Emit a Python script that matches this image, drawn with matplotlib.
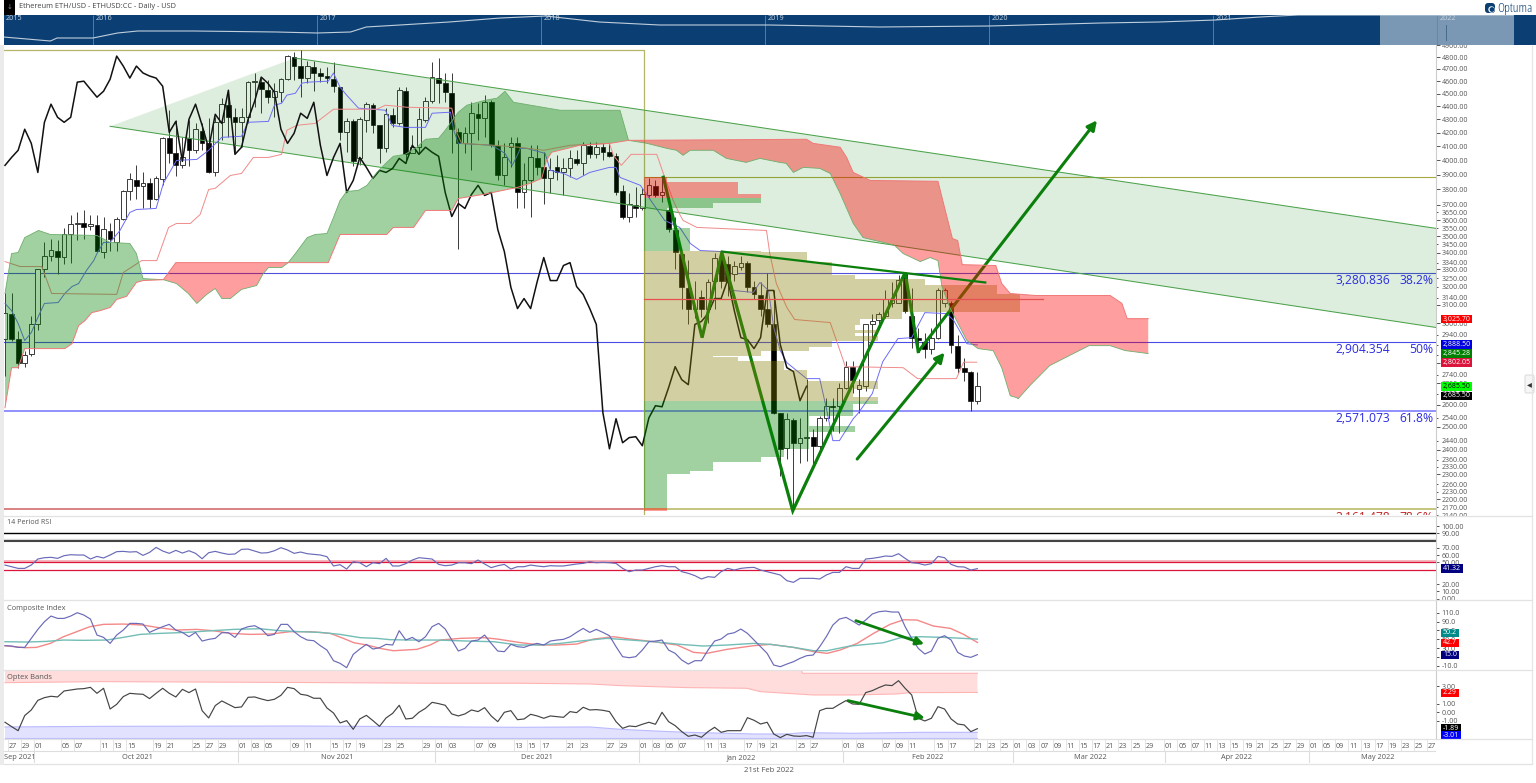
import numpy as np
import matplotlib
matplotlib.use("Agg")
import matplotlib.pyplot as plt
from matplotlib.patches import Rectangle, Circle, FancyBboxPatch

plt.rcParams['font.family'] = ['Open Sans', 'DejaVu Sans']

W, H = 1536, 783

# ---------- candles (ETH/USD, daily, bar 0 = 26 Sep 2021) ----------
opens = [2921,3053,2921,2800,2845,2995,3305,3382,3412,3376,3510,3573,3579,3560,3567,3406,3529,3461,3604,3787,
 3861,3821,3841,3740,3868,4159,4050,3965,4159,4072,4211,4122,3916,4278,4409,4316,4278,4316,4592,4592,
 4527,4472,4511,4616,4800,4724,4625,4716,4667,4642,4616,4551,4203,4285,4014,4293,4409,4255,4086,4331,
 4270,4519,4050,4094,4293,4440,4625,4584,4503,4203,4122,4196,4339,4308,4432,4101,3895,4094,4122,3780,
 3861,4014,3951,3875,3951,3916,3944,4007,3979,4101,4043,4094,4058,4029,3787,3623,3700,3675,3760,3821,
 3760,3662,3535,3394,3191,3080,3141,3080,3236,3364,3334,3276,3317,3340,3202,3152,3080,2995,2563,2410,
 2531,2431,2453,2457,2418,2540,2595,2595,2679,2780,2674,2689,2995,3016,3042,3108,3113,3276,3042,2926,
 2906,2870,2926,3113,3113,2885,2775,2756,2618]
highs = [3163,3163,2963,2860,3042,3305,3461,3485,3473,3548,3630,3649,3668,3630,3630,3617,3579,3617,3794,3909,
 3965,3916,3875,3889,4166,4370,4293,4166,4293,4270,4270,4308,4316,4464,4527,4386,4386,4600,4667,4625,
 4608,4584,4625,4817,4842,4860,4766,4766,4708,4716,4758,4551,4308,4301,4316,4432,4424,4255,4386,4386,
 4551,4551,4181,4386,4472,4758,4792,4667,4667,4233,4240,4432,4424,4488,4448,4144,4122,4166,4166,3979,
 4108,4108,4058,4014,4036,4014,4072,4072,4130,4130,4130,4122,4122,4050,3828,3774,3814,3808,3875,3861,
 3882,3753,3617,3400,3358,3236,3180,3247,3400,3412,3382,3352,3382,3352,3236,3225,3282,3180,2563,2563,
 2540,2540,2722,2492,2549,2632,2632,2703,2810,2810,2722,2995,3053,3064,3180,3230,3270,3282,3191,2974,
 2948,2974,3191,3191,3124,2942,2825,2761,2756]
lows = [2736,2911,2775,2780,2835,2968,3254,3352,3276,3334,3340,3473,3485,3535,3412,3370,3412,3412,3598,3727,
 3740,3675,3675,3733,3828,3979,3889,3944,3958,4050,4072,3909,3889,4144,4166,4058,4094,4270,4393,4347,
 4424,4316,4432,4608,4608,4472,4584,4519,4592,4584,4511,4144,4058,3958,3965,4203,4196,3979,4058,4240,
 4255,3979,4050,4050,4278,4424,4424,4432,4050,3420,4050,3930,4144,4166,4094,3861,3828,3951,3675,3681,
 3617,3895,3707,3774,3861,3760,3882,3965,3895,4014,4014,4000,4021,3760,3604,3585,3617,3662,3747,3747,
 3714,3523,3300,3080,2995,3027,3032,3000,3080,3191,3147,3236,3294,3169,3135,3042,2979,2559,2294,2363,
 2156,2347,2355,2335,2397,2527,2483,2474,2674,2655,2563,2665,2926,2979,3027,3086,3108,3058,2875,2875,
 2825,2845,2921,3086,2850,2751,2712,2572,2604]
closes = [3058,2921,2800,2840,2995,3305,3382,3418,3376,3510,3573,3579,3554,3573,3412,3541,3485,3604,3787,3868,
 3821,3841,3740,3875,4159,4050,3965,4021,4072,4226,4122,3916,4278,4417,4316,4278,4316,4592,4600,4535,
 4472,4519,4616,4808,4724,4625,4724,4667,4642,4625,4559,4203,4285,3993,4301,4417,4255,4086,4339,4270,
 4527,4043,4094,4301,4440,4633,4584,4511,4226,4122,4196,4347,4308,4432,4108,3895,4021,4122,3780,3861,
 4021,3951,3875,3930,3916,3944,4014,3979,4108,4043,4094,4058,4029,3780,3623,3707,3675,3767,3828,3760,
 3780,3541,3406,3197,3080,3135,3080,3230,3370,3236,3236,3323,3340,3202,3158,3080,2995,2563,2405,2536,
 2431,2453,2457,2418,2540,2595,2590,2679,2780,2717,2693,2995,3011,3053,3135,3135,3241,3069,2926,2916,
 2870,2926,3180,3180,2890,2775,2756,2618,2685.5]

# ---------- Ichimoku ----------
tenkan_x = [0,1,2,3,4,5,6,8.1,9.1,10.2,11.2,12.4,13.5,14,15,16,17.5,19,20,23,24.1,26.1,29.2,31,33,36,37,40.1,41,42.1,42.9,
 44.2,45.2,46.2,49.2,50,51,52,53.8,57.9,58.9,60.9,64,65,67.8,68.3,69,74.1,76.1,77.2,78.2,78.4,79.4,82.2,83,85,87,89,92,93,
 93.6,96.7,100.4,102.7,104.3,105.8,109,110.8,113.9,114.9,116.2,117,118,119,122,124,125,126,127,129.1,129.8,132,133.6,135.9,
 138,140,143.3,144.4,146.4,148]
tenkan_y = [3108,3069,3000,2911,2952,3032,3108,3113,3163,3202,3219,3294,3352,3394,3461,3461,3535,3649,3668,3675,3841,4000,4007,4072,4166,4174,4278,4285,4409,4424,4488,
 4503,4584,4592,4600,4667,4551,4488,4386,4370,4255,4240,4240,4347,4355,4218,4122,4108,4050,3965,4058,4086,4086,4050,3930,3909,3868,3916,3951,3951,
 3882,3828,3598,3554,3455,3412,3406,3180,3169,3225,3180,2979,2860,2800,2722,2722,2585,2440,2440,2536,2559,2651,2805,2921,
 2926,3058,3053,3016,2895,2888.5]
kijun_x = [0,2.3,5.6,7.1,17,18,20.8,23.1,24.9,26.1,28.2,29.7,31,32,34.3,36,37.8,40.1,42.1,42.9,44.4,47.2,50,56.6,57.9,61.2,68,68.8,69.5,
 74.4,78.2,82,86,92,92.6,93.8,95.3,99.2,100.2,101.7,102.7,103.2,105.3,115.9,116.4,117.4,119,120.2,125.6,126.4,127.6,127.9,136.7,138.9,144.8,145.9,147.9]
kijun_y = [3346,3317,3317,3163,3158,3282,3352,3352,3554,3579,3579,3636,3800,3808,3895,3909,4021,4021,4043,4218,4255,4270,4378,4378,4409,4393,4386,4196,4122,
 4108,4094,4072,4108,4122,4036,3965,4043,4043,3909,3727,3636,3598,3554,3535,3394,3219,3086,3021,3005,2926,2810,2780,2775,2722,2722,2802,2802]
span_a_x = [0,1,2,3,5.1,6.9,14,16,19,20,21,24.1,26.1,27.9,29.2,30.7,32,33,34.3,36,38.3,39.3,40.1,42.1,43.1,44.2,46,47.2,49,50,51,52,53.8,55.1,
 56.6,58.1,59.1,60.9,62.7,64,66,67,69,70.3,73.1,74.9,76.1,77.4,80,84.5,93.6,94.9,97.7,100.7,102.2,103.2,104.3,107.8,109.8,112.8,114.9,117.9,118.9,120,121.5,124,
 125.6,127.1,129.1,130.6,133.7,135.4,136.7,139.3,140.8,142,142.6,143.8,146.4,148.1,150.4,151.7,153,154,154.2,156,159,162,165,168.2,170.5,174]
span_a_y = [3163,3394,3400,3491,3535,3510,3504,3461,3455,3394,3247,3241,3219,3163,3108,3158,3191,3135,3135,3186,3208,3276,3311,3311,3340,3394,3491,3510,3516,3617,3727,3787,3794,3828,
 3916,3986,4029,4043,4094,4152,4159,4218,4355,4409,4448,4464,4519,4432,4409,4370,4370,4144,4122,4086,4072,4036,4072,4072,4014,3986,4014,3986,3979,3916,3951,3944,
 3909,3774,3579,3491,3461,3443,3394,3346,3370,3352,3202,3086,2911,2870,2860,2775,2641,2632,2627,2689,2785,2835,2885,2885,2860,2845]
span_b_x = [0,1,2,3,9.1,10.2,11.2,12.2,13.2,14.5,16,17,18.5,20,21,24.1,26,43.1,49.2,51,58.1,59.1,62.2,64,68,69,72.8,78,79.9,81.7,82.4,83.2,87.5,92.1,94.9,
 122,123,127.1,128.1,129.1,131.7,142,143,144.2,145,145.7,150.8,151.7,153,156.8,168.2,170,170.8,174]
span_b_y = [2586,2775,2775,2870,2870,2895,2989,3016,3058,3069,3086,3130,3147,3225,3236,3241,3340,3340,3340,3510,3510,3554,3554,3662,3662,3740,3767,3814,3841,3875,4000,4058,4108,4122,4144,
 4152,4122,4094,4021,3916,3861,3855,3681,3485,3473,3328,3323,3219,3163,3152,3152,3108,3025.7,3025.7]

# ---------- volume profile ----------
vp_edges = [3883,3848,3770,3742,3710,3677,3549,3408,3402,3342,3270,3246,3208,3161,3060,3025,2993,2968,2950,2933,2907,2876,2860,2832,2827,2810,2764,2712,2673,2634,2618,
 2605,2550,2505,2476,2405,2370,2350,2314,2300,2168,2156]
vp_lengths = [3.5,14.2,17.7,17.7,10.5,3.5,7,17.7,24.7,28.6,32.1,42.8,53.7,57.2,39.3,32.9,32.1,35.6,32.1,35.6,28.6,25,17.7,10.5,14.2,21.2,24.7,35.6,31.8,35.6,
 35.6,31.8,25,32.1,25,21.2,17.7,10.5,7,3.5,3.5]
vp_kinds = list("RRRGGGG") + list("T"*23) + list("GGGGGGGGGG") + ["R"]
vp_start = 97.3
vp_poc = 3135

# ---------- fibonacci and drawings ----------
fib_prices = [3280.836, 2904.354, 2571.073, 2161.478]
fib_values = ["3,280.836", "2,904.354", "2,571.073", "2,161.478"]
fib_pcts = ["38.2%", "50%", "61.8%", "78.6%"]
olive_level = 3883
olive_top = 4864
channel_x = [16, 44.1, 217.8, 217.8]
channel_y = [4248, 4792, 3548, 2979]
zigzag_x = [100.2, 106.1, 109.1, 119.9, 137, 139]
zigzag_y = [3883, 2926, 3400, 2156, 3282, 2855]
big_arrow_end = (166.2, 4293)
trend_x = [109.1, 149.2]
trend_y = [3406, 3225]
arrow2 = ((129.7, 2362), (143, 2850))
comp_arrow = ((129.5, 92), (139.9, 39))
optex_arrow = ((128.3, 1.35), (140, -0.65))

price_ticks_major = [4900,4800,4700,4600,4500,4400,4300,4200,4100,4000,3900,3800,3700,3600,3500,3400,3300,3100,3000,2800,2700,2600,2500,2400,2300,2200]
price_ticks_minor = [3650,3550,3450,3340,3250,3200,3140,2940,2890,2840,2740,2650,2540,2440,2360,2330,2260,2230,2170,2140]

# ---------- RSI ----------
rsi = [46.3,44,41.7,41.7,46.3,54.6,56.4,56.9,55.5,59.2,
 60.5,60.1,60.1,54.6,58.2,56,60.1,64.7,65.1,64.2,
 64.7,59.6,63.7,70.6,65.6,62.4,66.5,62.8,66,62.4,
 55,63.3,65.1,62.8,61,61.5,67.9,68.3,65.6,62.8,
 63.3,66,70.2,67,62.4,64.2,61.9,61,60.1,57.8,
 45,46.8,40.8,50.9,49.5,44,49.5,48.2,55.5,45,
 45,48.2,53.2,56.4,55.5,54.6,47.2,45.4,46.3,49.5,
 49.5,48.2,53.2,47.7,42.7,45.4,47.2,40.8,44,
 44,46.3,45,44,45.4,45,45,46.3,47.7,48.6,
 50.9,49.5,50,49.5,48.6,41.7,37.2,39.4,39.4,41.7,
 44,45.4,44,44,37.2,34.9,31.7,27.1,30.3,29.4,
 37.2,41.7,39.4,41.7,42.7,43.1,39.4,37.2,34.9,32.6,
 24.8,22.5,28,28,28,27.1,32.6,36.2,36.2,44,
 41.7,41.7,54.6,55.5,56.9,58.7,58.2,61.9,55.5,49.5,
 48.6,46.3,48.2,58.2,56.4,47.2,44,43.6,39.4,41.32]
rsi_ticks = [100,90,70,60,50,20,10,0]

# ---------- Composite Index ----------
composite = [35.2,34.5,31.5,31.5,51.9,72.2,89.6,102.4,97.1,97.1,
 102.4,110,104.7,95.6,59.4,54.1,40.5,59.4,70.7,85.8,
 85.8,84.3,65.4,72.2,78.3,83.6,70.7,65.4,55.6,65.4,
 45.8,49.6,51.9,64.7,64.7,54.1,73,78.3,80.5,73,
 57.9,60.9,83.6,83.6,67,55.6,48.1,46.6,35.2,25.4,
 1.3,-4.7,-14.5,15.6,27.7,38.3,27.7,30.7,38.3,36.8,
 69.2,48.1,54.1,44.3,55.6,78.3,85.8,73,48.1,23.2,
 29.2,45.8,48.1,59.4,40.5,23.2,21.7,38.3,33,
 31.5,36.8,40.5,36.8,45.8,48.1,49.6,55.6,65.4,74.5,
 65.4,72.2,65.4,57.9,33,10.4,8.1,10.4,25.4,44.3,
 45.8,48.1,25.4,17.9,2.8,-6.3,1.3,1.3,25.4,45.8,
 50.4,61.7,64.7,73,63.2,48.1,33,17.9,-8.5,-12.3,
 -6.3,-1,6.6,12.6,14.1,33,55.6,82,95.6,99.4,
 91.1,82,93.4,107,112.2,113.8,111.5,111.5,78.3,51.9,
 29.2,16.4,23.2,51.9,57.9,48.1,20.2,11.9,8.9,15]
comp_red_x = [0,3,4.8,6.9,8.9,10.9,12.9,15,18,21,23.1,26.1,29.2,31.7,34.3,37.3,40.4,43.4,46.5,49.5,51.5,53.1,55.1,57.1,59.1,62.7,64.7,66.2,69.3,72.9,74.9,78.2,
 81.4,84,87,89.6,92.6,95.2,98.7,102.3,104.8,106.8,109.9,113.9,116.5,120,123.1,125.1,127.1,129.7,132.2,134.7,136.8,138.8,141.3,143.9,145.9,148]
comp_red_y = [35.2,30.7,31.5,40.5,55.6,66.9,78.3,83.6,84.3,82,76.8,70.7,72.2,69.2,63.2,60.9,61.7,67,67,63.2,51.9,42,36.8,29.2,23.9,27,36.8,48.1,51.9,53.4,50.4,42.8,
 36.8,36.8,39,50.4,55.6,50.4,44.3,36.8,20.2,17.9,27,35.2,38.3,31.5,21.7,17.9,25.4,40.5,63.2,83.6,94,93.4,79.8,74.5,60.9,42.7]
comp_teal_x = [0,3.3,6.3,8.9,11.9,15.5,18,20.6,23.6,27.7,30.7,34.8,38.8,41.9,44.9,48,51,54.1,56.6,58.6,61.7,65.7,70.3,74.4,78.2,
 81.4,84.5,87.5,91.6,95.2,98.7,102.8,106.3,109.9,113.9,116.5,120,123.1,125.1,128.6,133.7,136.3,139.3,142.9,148]
comp_teal_y = [44.3,43.6,45,48.1,47.4,48.1,54.1,60.9,63.2,65.4,68.5,72.2,73.7,69.2,67,65.4,60.9,53.4,51.9,48.9,48.1,48.1,45.8,44.3,36.8,
 36.8,40.5,45.8,51.9,48.1,44.3,38.3,34.5,36.8,40.5,38.3,31.5,23.9,23.9,34.5,42,53.4,55.6,54.1,50.2]
comp_ticks = [110,90,70,50,30,10,-10]

# ---------- Optex Bands ----------
optex = [-1.15,-1.65,-2.12,-.38,.27,1.38,1.69,1.85,1.77,2.46,
 2.58,2.69,2.73,2.88,2.19,2.77,.38,.92,1.81,2.19,
 2.12,2.08,1.58,2.19,2.77,2.19,1.77,2.65,2.27,2.69,
 .19,-.65,.77,1.31,.92,.54,.62,1.73,1.77,1.54,
 1.35,1.5,1.96,2.88,2.73,2.08,1.96,1.62,1.62,.5,
 -.08,-1.23,-.96,-1.96,-.77,-.35,-.96,-1.62,-.65,-.12,
 .81,-.77,-.69,0,.46,1.15,1,.81,-.19,-.42,
 -.19,.27,.08,.54,-.42,-1.08,0,.19,-.85,
 -.77,-.23,-.42,-.69,-.42,-.5,-.58,.08,-.04,.58,
 .27,.31,.23,.08,-1.08,-1.85,-1.58,-1.65,-1.38,-1.15,
 -1.38,0,-1.08,-1.54,-2.23,-2.77,-2.62,-2.88,-2.23,-1.73,
 -2.31,-2.12,-2.12,-2.12,-.62,-.92,-1.35,-1.15,-2.5,-2.92,
 -2.54,-2.73,-2.77,-2.69,-2.88,.19,.46,.46,.92,1.35,
 .96,.92,2.27,2.5,2.85,3.15,3.08,3.65,2.77,2,
 -.69,-1,-.69,.65,.38,-.77,-1.35,-1.46,-2.23,-1.89]
upper_top_x = [0,120.8,121.4,148]
upper_top_y = [5.5,5.5,4.5,4.5]
upper_low_x = [0,14.5,50,65,78.4,89,93.6,98.7,103.8,112.9,115,119,123,129.2,135.8,137.8,148]
upper_low_y = [3.42,3.54,3.42,3.35,3.35,3.27,3.08,2.96,2.85,2.77,2.38,2.19,2,2,2.12,2.27,2.29]
lower_top_x = [0,14.5,45,60,78.4,89,93.6,98.7,103.8,114,119,121.5,129.2,139.3,148]
lower_top_y = [-1.69,-1.62,-1.58,-1.65,-1.73,-1.69,-1.96,-2.15,-2.31,-2.5,-2.5,-2.35,-2.42,-2.31,-2.31]
lower_bottom = -3.01
optex_ticks = [3,1,0,-1]

# ---------- date axis ----------
date_pos = [1,3,5,9,11,15,17,19,23,25,29,31,33,36,38,40,44,46,50,52,54,58,60,64,66,68,72,74,78,80,82,86,88,92,94,97,99,101,103,107,109,113,115,117,121,123,128,130,134,136,138,142,144,148,150,152,
 154,156,158,160,162,164,166,168,170,172,174,177,179,181,183,185,187,189,191,193,195,197,199,201,203,205,207,209,211,213,215,217]
date_lab = "27 29 01 05 07 11 13 15 19 21 25 27 29 01 03 05 09 11 15 17 19 23 25 29 01 03 07 09 13 15 17 21 23 27 29 01 03 05 07 11 13 17 19 21 25 27 01 03 07 09 11 15 17 21 23 25 01 03 07 09 11 15 17 21 23 25 29 01 05 07 11 13 15 19 21 25 27 29 01 05 09 11 13 17 19 23 25 27".split()
month_names = ["Sep 2021","Oct 2021","Nov 2021","Dec 2021","Jan 2022","Feb 2022","Mar 2022","Apr 2022","May 2022"]
month_pos = [2.2,20.1,50.5,81,112,140.5,165.2,187.5,209]
month_edges = [4.4,35.5,65.5,96.5,127.5,153.4,176.6,198.4]

# ---------- navigator ----------
nav_years = [2015.60,2015.81,2015.84,2016,2016.11,2016.2,2016.45,2016.82,2017,2017.15,2017.22,2017.37,2017.59,2017.82,2018.02,2018.26,2018.53,2019.02,2019.51,2020,2020.5,2020.76,2021.01,2021.21,2021.38,2021.74,2022.06,2022.34]
nav_values = [8,4,7,7,12,14,14,13,12,13,18,20,23,27,29,23,20,20,18,19,22,23,25,28,30,30,30,30]
nav_labels = [2016,2017,2018,2019,2020,2021,2022]

# ---------- badges: text, colour, text colour, pixel row ----------
badges = [("3,025.70","#FF0000","white",319,1472),("2,888.50","#0000E0","white",344.5,1472),("2,845.28","#008000","white",353.5,1472),
          ("2,802.05","#DC143C","white",362.7,1472),("2,685.50","#00FF00","black",386.5,1472),("2,685.50","#000000","white",396,1472),
          ("41.32","#000080","white",568.5,1463),("50.2","#008B8B","white",633,1459),("42.7","#FF0000","white",643,1459),
          ("15.0","#000080","white",655,1459),("2.29","#FF0000","white",693,1459),("-1.89","#000000","white",728.5,1461),("-3.01","#0000FF","white",735.5,1461)]

fig = plt.figure(figsize=(W/100, H/100), dpi=100, facecolor='white')

def axes_px(x0, y0, x1, y1, **kw):
    return fig.add_axes([x0/W, 1-y1/H, (x1-x0)/W, (y1-y0)/H], **kw)

X0, X1 = 4, 1436
xlim = (-0.152, 217.8)
TICKC = '#555555'

ax = axes_px(X0, 45, X1, 515)
ax.set_yscale('log')
ax.set_xlim(*xlim)
ax.set_ylim(2140, 4903)

# fibonacci and reference lines
fib_cols = ['#5050DC', '#4A4AE8', '#9090FF']
fib_lws = [0.8, 0.8, 1.4]
for p, c, lw in zip(fib_prices[:3], fib_cols, fib_lws):
    ax.axhline(p, color=c, lw=lw, zorder=1)
ax.plot([xlim[0], vp_start], [fib_prices[3]]*2, color='#D06060', lw=1.1, zorder=1)
ax.plot([vp_start, xlim[1]], [fib_prices[3]]*2, color='#B5B55A', lw=1.1, zorder=1)
ax.plot([vp_start, xlim[1]], [olive_level]*2, color='#A8A840', lw=0.8, zorder=1)
ax.plot([xlim[0], vp_start, vp_start], [olive_top, olive_top, 2140], color='#B5B56A', lw=0.9, zorder=1)

# candles
idx = np.arange(len(closes))
o, h, l, c = map(np.array, (opens, highs, lows, closes))
ax.vlines(idx, l, h, color='#3A3A3A', lw=0.7, zorder=2)
up = c >= o
ax.bar(idx[up], (c-o)[up], bottom=o[up], width=0.72, facecolor='white', edgecolor='#3A3A3A', lw=0.7, zorder=2.1)
ax.bar(idx[~up], (o-c)[~up], bottom=c[~up], width=0.72, facecolor='#000000', edgecolor='#111111', lw=0.5, zorder=2.1)

# descending channel
ax.fill(channel_x, channel_y, facecolor=(0, 0.5, 0, 0.13), lw=0, zorder=3)
ax.plot(channel_x[1:3], channel_y[1:3], color='#4CA24C', lw=0.75, zorder=3.1)
ax.plot([channel_x[0], channel_x[3]], [channel_y[0], channel_y[3]], color='#4CA24C', lw=0.75, zorder=3.1)

# ichimoku lines and the wave drawing sit beneath the translucent cloud and profile
GREEN = '#0B7F0B'
ax.plot(tenkan_x, tenkan_y, color='#6C6CF5', lw=0.7, zorder=3.5)
ax.plot(kijun_x, kijun_y, color='#F08A8A', lw=0.7, zorder=3.5)
ax.plot(idx[:-26], c[26:], color='#111111', lw=1.1, zorder=3.5, solid_joinstyle='round')
ax.plot(zigzag_x, zigzag_y, color=GREEN, lw=2.3, zorder=3.6, solid_joinstyle='miter')

def arrow(axis, start, end, lw=2.2, ms=14, z=6):
    axis.annotate('', xy=end, xytext=start, zorder=z,
                  arrowprops=dict(arrowstyle='-|>', color=GREEN, lw=lw, mutation_scale=ms, shrinkA=0, shrinkB=0))
arrow(ax, (zigzag_x[-1], zigzag_y[-1]), big_arrow_end, z=3.6)

# volume profile
vp_col = {'R': (1, 0, 0, 0.38), 'G': (0, 0.5, 0, 0.37), 'T': (0.53, 0.49, 0.02, 0.37)}
for k, ln, top, bot in zip(vp_kinds, vp_lengths, vp_edges[:-1], vp_edges[1:]):
    ax.barh(bot, ln, height=top-bot, left=vp_start, align='edge', color=vp_col[k], lw=0, zorder=4)
ax.plot([vp_start, 158], [vp_poc, vp_poc], color='#E65050', lw=0.9, zorder=4.1)

# cloud
gx = np.linspace(0, 174, 3000)
ga = np.interp(gx, span_a_x, span_a_y)
gb = np.interp(gx, span_b_x, span_b_y)
ax.fill_between(gx, ga, gb, where=ga >= gb, interpolate=True, facecolor=(0, 0.5, 0, 0.37), lw=0, zorder=4)
ax.fill_between(gx, ga, gb, where=ga <= gb, interpolate=True, facecolor=(1, 0, 0, 0.38), lw=0, zorder=4)
ax.plot(span_a_x, span_a_y, color='#6DAF6D', lw=0.6, zorder=4.2)
ax.plot(span_b_x, span_b_y, color='#F07878', lw=0.7, zorder=4.2)

# drawings above the overlays
ax.plot(trend_x, trend_y, color=GREEN, lw=1.6, zorder=6)
arrow(ax, arrow2[0], arrow2[1])

# fib labels
for p, v, pc, col in zip(fib_prices, fib_values, fib_pcts, ['#2B2BE0']*3 + ['#C02020']):
    ax.annotate(v, xy=(xlim[1], p), xytext=(-46/1.389, -8/1.389), textcoords='offset points', ha='right', va='center',
                fontsize=8.7, color=col, clip_on=True, annotation_clip=False, zorder=7)
    ax.annotate(pc, xy=(xlim[1], p), xytext=(-3/1.389, -8/1.389), textcoords='offset points', ha='right', va='center',
                fontsize=8.7, color=col, clip_on=True, annotation_clip=False, zorder=7)

def style_pane(a):
    for s in ('left', 'top', 'bottom'):
        a.spines[s].set_visible(False)
    a.spines['right'].set_color('#CCCCCC')
    a.spines['right'].set_linewidth(0.8)
    a.set_xlim(*xlim)
    a.set_xticks([])
    a.yaxis.tick_right()
    a.tick_params(axis='y', length=1.8, width=0.7, color='#555555', labelsize=5.1, labelcolor=TICKC, pad=2.2)
    a.patch.set_alpha(0)

# price axis
style_pane(ax)
ax.set_yticks(price_ticks_major, [f"{t}.00" for t in price_ticks_major])
ax.set_yticks(price_ticks_minor, [f"{t}.00" for t in price_ticks_minor], minor=True)
ax.tick_params(axis='y', which='major', length=3, width=0.7, color='#555555', labelsize=5, labelcolor=TICKC, pad=1)
ax.tick_params(axis='y', which='minor', length=1.6, width=0.7, color='#555555', labelsize=5, labelcolor=TICKC, pad=2.4)

# RSI
ax_rsi = axes_px(X0, 517, X1, 600)
style_pane(ax_rsi)
ax_rsi.set_ylim(-1.8, 112.4)
ax_rsi.axhline(90, color='#000000', lw=1.0)
ax_rsi.axhline(82, color='#DDDDDD', lw=1.0)
ax_rsi.axhline(80, color='#444444', lw=1.5)
ax_rsi.axhline(51.5, color='#F4B0B8', lw=1.3)
ax_rsi.axhline(50, color='#DC143C', lw=0.9)
ax_rsi.axhline(40, color='#DC143C', lw=0.9)
ax_rsi.plot(np.arange(len(rsi)), rsi, color='#6A6AB8', lw=0.85)
ax_rsi.set_yticks(rsi_ticks, [f"{t}.00" for t in rsi_ticks])

# Composite
ax_comp = axes_px(X0, 601, X1, 669)
style_pane(ax_comp)
ax_comp.set_ylim(-17.5, 136.5)
ax_comp.plot(comp_red_x, comp_red_y, color='#F48888', lw=1.0)
ax_comp.plot(comp_teal_x, comp_teal_y, color='#72BDB6', lw=1.0)
ax_comp.plot(np.arange(len(composite)), composite, color='#6A6AB8', lw=0.85)
ax_comp.set_yticks(comp_ticks, [f"{t}.0" for t in comp_ticks])
arrow(ax_comp, comp_arrow[0], comp_arrow[1], lw=2.0, ms=12)

# Optex
ax_opt = axes_px(X0, 670, X1, 739)
style_pane(ax_opt)
ax_opt.set_ylim(-3.08, 4.88)
ux = np.linspace(0, 148, 1500)
ax_opt.fill_between(ux, np.interp(ux, upper_low_x, upper_low_y), np.interp(ux, upper_top_x, upper_top_y),
                    facecolor='#FFDDDD', lw=0)
ax_opt.plot(upper_low_x, upper_low_y, color='#FFB4B4', lw=0.8)
ax_opt.plot(upper_top_x, upper_top_y, color='#FFB4B4', lw=0.8)
ax_opt.fill_between(ux, lower_bottom, np.interp(ux, lower_top_x, lower_top_y), facecolor='#E2E2FF', lw=0)
ax_opt.plot(lower_top_x, lower_top_y, color='#BABAFF', lw=0.8)
ax_opt.plot([0, 148], [lower_bottom]*2, color='#BABAFF', lw=0.8)
ax_opt.plot(np.arange(len(optex)), optex, color='#444444', lw=0.85)
ax_opt.set_yticks(optex_ticks, [f"{t}.00" for t in optex_ticks])
arrow(ax_opt, optex_arrow[0], optex_arrow[1], lw=2.0, ms=12)

# date axis
ax_d = axes_px(X0, 739, X1, 763)
ax_d.set_xlim(*xlim)
ax_d.set_ylim(0, 1)
ax_d.axis('off')
for p, t in zip(date_pos, date_lab):
    ax_d.text(p + 0.2, 0.70, t, ha='center', va='center', fontsize=5.2, color='#555555')
    ax_d.plot([p - 0.55]*2, [0.5, 1], color='#E4E4E4', lw=0.7)
for p, t in zip(month_pos, month_names):
    ax_d.text(p, 0.22, t, ha='center', va='center', fontsize=5.3, color='#555555')
for p in month_edges:
    ax_d.plot([p, p], [0, 0.5], color='#DDDDDD', lw=0.8)
ax_d.plot(list(xlim), [0.48, 0.48], color='#DDDDDD', lw=0.8)

# navigator
ax_n = axes_px(4, 15, 1536, 45)
ax_n.set_facecolor('#0B3F73')
ax_n.set_xlim(2015.603, 2022.442)
ax_n.set_ylim(0, 30)
ax_n.set_xticks([]); ax_n.set_yticks([])
for s in ax_n.spines.values():
    s.set_visible(False)
ax_n.axvspan(2021.746, 2022.344, color='#7A98B4', lw=0, zorder=1)
ax_n.vlines(nav_labels, 0, 30, color='#5F86A8', lw=0.6, zorder=1.5)
ax_n.plot([2022.04, 2022.04], [5, 20], color='#4A6C8C', lw=0.7, zorder=2)
ax_n.plot(nav_years, nav_values, color='#C0CEDC', lw=0.8, zorder=2)
ax_n.text(2015.61, 26.5, "2015", color='#C8D4E0', fontsize=5.2, va='center')
for y in nav_labels:
    ax_n.text(y + 0.012, 26.5, str(y), color='#C8D4E0', fontsize=5.2, va='center')

# page furniture drawn in pixel space
deco = axes_px(0, 0, W, H)
deco.set_xlim(0, W); deco.set_ylim(H, 0)
deco.axis('off')
deco.patch.set_alpha(0)
deco.set_zorder(20)
deco.add_patch(Rectangle((0, 45), 4, 720, color='#EBEBEB', lw=0))
deco.add_patch(Rectangle((1437, 516), 94, 3, color='white', lw=0))
for yy in (516, 600, 669.5, 739, 763.5):
    deco.plot([4, 1532], [yy, yy], color='#E2E2E2', lw=0.9)
deco.plot([1532, 1532], [45, 763], color='#E6E6E6', lw=0.9)
deco.add_patch(Rectangle((4, 0), 11, 15, color='#000000', lw=0))
deco.text(9.5, 7, "↓", color='#888888', fontsize=5, ha='center', va='center')
deco.text(19, 6, "Ethereum ETH/USD - ETHUSD:CC - Daily - USD", fontsize=5.35, color='#444444', va='center')
deco.text(769, 771, "21st Feb 2022", fontsize=5.6, color='#555555', ha='center', va='center')
deco.text(7, 523, "14 Period RSI", fontsize=5.1, color='#555555', va='center')
deco.text(7, 608, "Composite Index", fontsize=5.4, color='#555555', va='center')
deco.text(7, 677.5, "Optex Bands", fontsize=5.4, color='#555555', va='center')
deco.add_patch(FancyBboxPatch((1485, 3), 10, 10, boxstyle="round,pad=0,rounding_size=3", color='#0B3F73', lw=0))
deco.add_patch(Circle((1491.5, 9.5), 3.2, color='white', lw=0))
deco.add_patch(Circle((1492, 9.5), 2.4, color='#0B3F73', lw=0))
deco.text(1497, 8.5, "Optuma", fontsize=9.6, color='#0B3F73', va='center', stretch='condensed')
deco.add_patch(FancyBboxPatch((1525, 375), 9, 18, boxstyle="round,pad=0,rounding_size=1.5", facecolor='#F6F6F6', edgecolor='#D8D8D8', lw=0.7))
deco.text(1529.5, 384, "◂", fontsize=7, color='#333333', ha='center', va='center', family='DejaVu Sans')
for txt, col, tc, yy, xe in badges:
    deco.add_patch(Rectangle((1441, yy-4.3), xe-1441, 8.6, color=col, lw=0))
    deco.text((1441+xe)/2, yy, txt, color=tc, fontsize=5, ha='center', va='center')

fig.savefig('out.png', dpi=100, facecolor='white')
